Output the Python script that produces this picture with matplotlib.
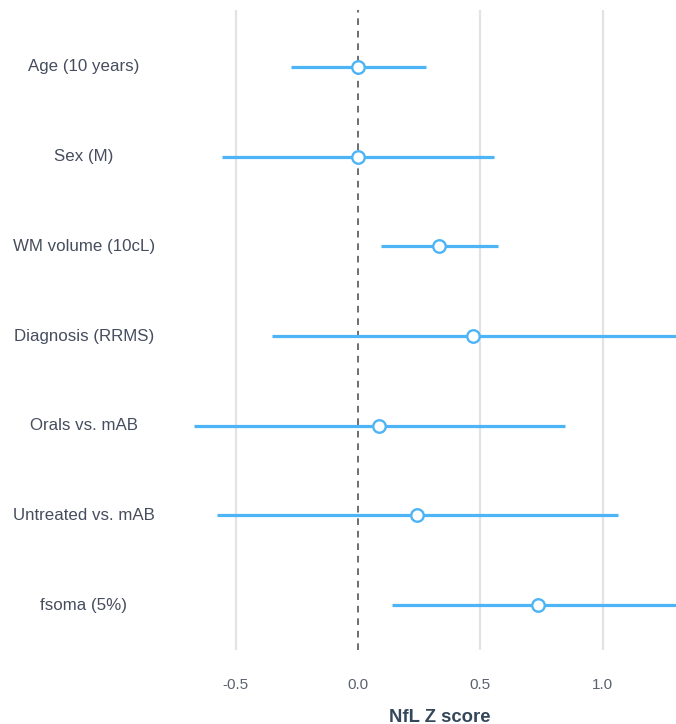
import matplotlib
matplotlib.use("Agg")
import matplotlib.pyplot as plt
from matplotlib.transforms import blended_transform_factory

labels = ["Age (10 years)", "Sex (M)", "WM volume (10cL)", "Diagnosis (RRMS)",
          "Orals vs. mAB", "Untreated vs. mAB", "fsoma (5%)"]
estimate = [0.0, 0.0, 0.332, 0.469, 0.087, 0.243, 0.737]
lower = [-0.274, -0.557, 0.094, -0.353, -0.669, -0.575, 0.138]
upper = [0.277, 0.557, 0.574, 1.40, 0.847, 1.065, 1.45]
xticks = [-0.5, 0.0, 0.5, 1.0]
xticklabels = ["-0.5", "0.0", "0.5", "1.0"]

W, H = 676, 724
fig = plt.figure(figsize=(W / 100, H / 100), dpi=100)
left_px, right_px, top_px, bot_px = 185, 676, 10, 650
ax = fig.add_axes([left_px / W, 1 - bot_px / H, (right_px - left_px) / W, (bot_px - top_px) / H])

blue = "#4db4f6"
ys = list(range(len(labels)))
for y, e, lo, hi in zip(ys, estimate, lower, upper):
    ax.plot([lo, hi], [y, y], color=blue, lw=2.3, solid_capstyle="butt", zorder=3)
    ax.plot([e], [y], marker="o", ms=9, mfc="white", mec=blue, mew=1.7, zorder=4)

ax.axvline(0, color="#555555", lw=1.2, ls=(0, (4, 3.5)), zorder=2)
for t in xticks:
    if t != 0:
        ax.axvline(t, color="#e3e3e3", lw=1.6, zorder=1)

x0 = (left_px - 358) / 244.5
x1 = (right_px - 358) / 244.5
ax.set_xlim(x0, x1)
ax.set_ylim(6.5, -0.635)
for s in ax.spines.values():
    s.set_visible(False)
ax.set_yticks([])
ax.set_xticks(xticks)
ax.set_xticklabels(xticklabels, fontsize=11, color="#5a6170", family="Liberation Sans")
ax.tick_params(axis="x", length=0, pad=20)

tr = blended_transform_factory(fig.transFigure, ax.transData)
for y, lab in zip(ys, labels):
    fig.text(84 / W, y, lab, transform=tr, ha="center", va="center",
             fontsize=12.2, color="#454d5e", family="Liberation Sans")

fig.text(439.5 / W, 1 - 717 / H, "NfL Z score", ha="center", va="center",
         fontsize=13.3, fontweight="bold", color="#34475a", family="Liberation Sans")

fig.savefig("out.png", dpi=100)
